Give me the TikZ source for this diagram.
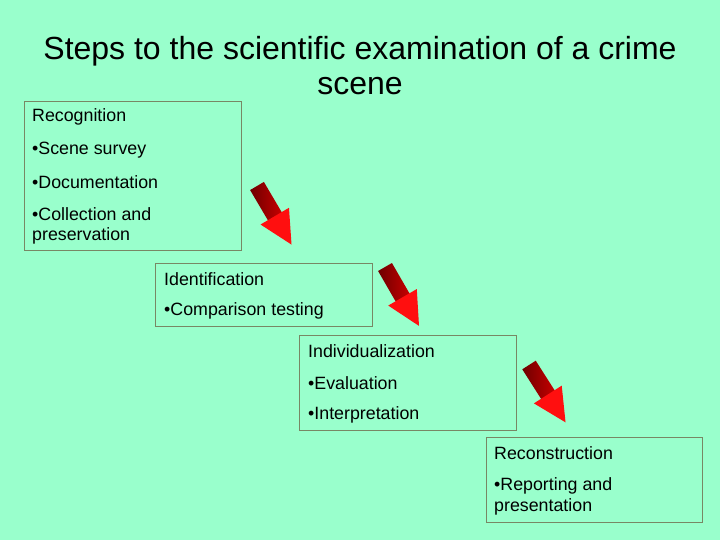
\documentclass[tikz,border=0pt]{standalone}
\usepackage{fontspec}
\setmainfont{Liberation Sans}
\definecolor{bg}{HTML}{99FFCC}
\definecolor{boxline}{RGB}{120,135,100}
\definecolor{darkshaft}{RGB}{110,0,0}
\definecolor{midshaft}{RGB}{200,0,0}
\definecolor{headred}{RGB}{255,15,15}
\tikzset{
  stepbox/.style={draw=boxline, line width=1pt, anchor=north west, inner sep=0pt},
  itemtext/.style={anchor=west, inner sep=0pt, font=\fontsize{17.8}{21}\selectfont, text=black},
  titletext/.style={anchor=center, inner sep=0pt, font=\fontsize{32}{38}\selectfont, text=black},
}
\newcommand{\redarrow}[3]{%
  \begin{scope}[shift={(#1,#2)}, rotate=#3]
    \path[left color=darkshaft, right color=midshaft]
      (0pt,-8pt) -- (37pt,-8pt) -- (37pt,8pt) -- (0pt,8pt) -- cycle;
    \path[fill=headred]
      (35pt,-16.5pt) -- (68pt,0pt) -- (35pt,16.5pt) -- cycle;
  \end{scope}}
\begin{document}
\begin{tikzpicture}[x=1pt,y=-1pt]
  \fill[bg] (0,0) rectangle (720,540);
  \useasboundingbox (0,0) rectangle (720,540);

  % title
  \node[titletext] (title1) at (360,51) {Steps to the scientific examination of a crime};
  \node[titletext] (title2) at (360,86) {scene};

  % boxes
  \node[stepbox, minimum width=217pt, minimum height=149pt] (box1) at (24,101) {};
  \node[stepbox, minimum width=217pt, minimum height=63pt] (box2) at (155,263) {};
  \node[stepbox, minimum width=217pt, minimum height=95pt] (box3) at (299,335) {};
  \node[stepbox, minimum width=216pt, minimum height=85pt] (box4) at (486,437) {};

  % box 1 text
  \node[itemtext] (t11) at (32,117) {Recognition};
  \node[itemtext] (t12) at (32,150) {•Scene survey};
  \node[itemtext] (t13) at (32,182) {•Documentation};
  \node[itemtext] (t14) at (32,214) {•Collection and};
  \node[itemtext] (t15) at (32,236) {preservation};

  % box 2 text
  \node[itemtext] (t21) at (164,279) {Identification};
  \node[itemtext] (t22) at (164,311) {•Comparison testing};

  % box 3 text
  \node[itemtext] (t31) at (308,351) {Individualization};
  \node[itemtext] (t32) at (308,383) {•Evaluation};
  \node[itemtext] (t33) at (308,415) {•Interpretation};

  % box 4 text
  \node[itemtext] (t41) at (494,453) {Reconstruction};
  \node[itemtext] (t42) at (494,486) {•Reporting and};
  \node[itemtext] (t43) at (494,507) {presentation};

  % arrows
  \redarrow{257}{186}{-59.5}
  \redarrow{385}{267}{-60}
  \redarrow{529}{365}{-57.5}
\end{tikzpicture}
\end{document}
